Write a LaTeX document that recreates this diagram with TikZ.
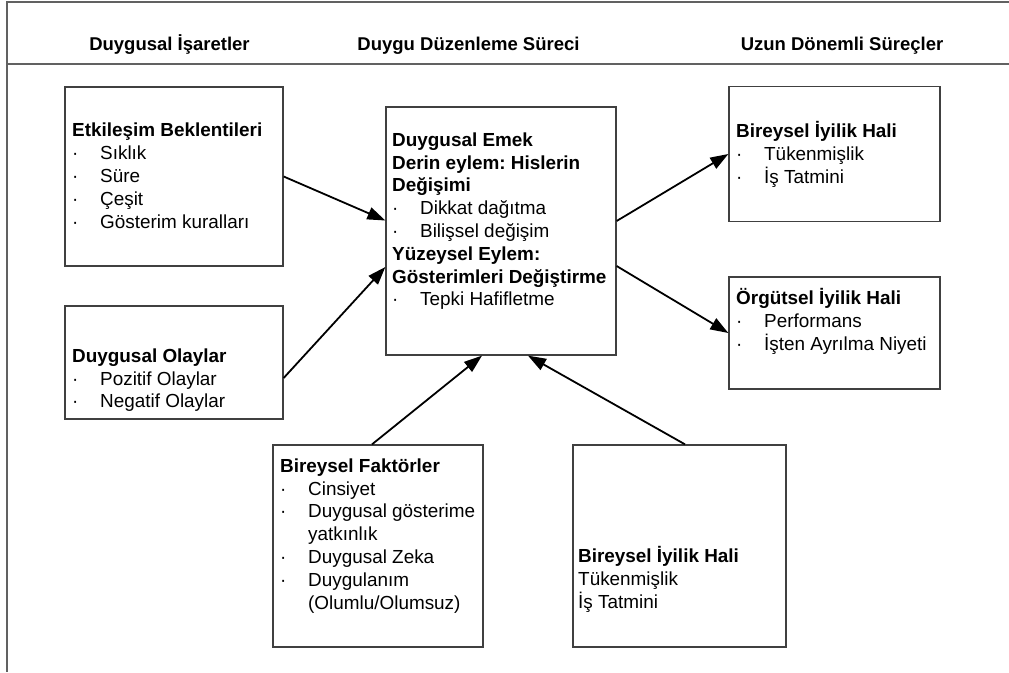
\documentclass[tikz,border=0pt]{standalone}
\usepackage{fontspec}
\setmainfont{Liberation Sans}
\usetikzlibrary{arrows.meta}
\frenchspacing
\newcommand{\bl}{\makebox[28pt][l]{·}}
\newcommand{\ind}{\makebox[28pt][l]{}}
\tikzset{
  frameline/.style={draw=black!62, line width=2pt},
  boxnode/.style={draw=black!75, line width=1.3pt, rectangle, inner sep=0pt},
  txt/.style={anchor=north west, inner sep=0pt, font=\fontsize{18.9}{22.8}\selectfont\frenchspacing},
  head/.style={anchor=base, inner sep=0pt, font=\fontsize{18.5}{22.8}\selectfont\bfseries},
  conn/.style={line width=1.8pt, -{Triangle[length=18pt,width=12.5pt]}}
}
\begin{document}
\begin{tikzpicture}[x=1pt,y=-1pt]
\useasboundingbox (0,0) rectangle (1009,672);
% frame
\coordinate (ftl) at (7,2);
\coordinate (ftr) at (1009,2);
\coordinate (fbl) at (7,672);
\coordinate (fsl) at (7,64);
\coordinate (fsr) at (1009,64);
\draw[frameline] (ftr) -- (ftl) -- (fbl);
\draw[frameline] (fsl) -- (fsr);
% headers
\node[head] (h1) at (169.5,50) {Duygusal İşaretler};
\node[head] (h2) at (468.5,50) {Duygu Düzenleme Süreci};
\node[head] (h3) at (842,50) {Uzun Dönemli Süreçler};
% boxes
\node[boxnode, minimum width=218pt, minimum height=179pt] (eb) at (174,176.5) {};
\node[boxnode, minimum width=218pt, minimum height=113pt] (do) at (174,362.5) {};
\node[boxnode, minimum width=230pt, minimum height=248pt] (de) at (501,231) {};
\node[boxnode, minimum width=211pt, minimum height=135pt] (bi1) at (834.5,154) {};
\node[boxnode, minimum width=211pt, minimum height=112pt] (oi) at (834.5,333) {};
\node[boxnode, minimum width=210pt, minimum height=202pt] (bf) at (378,546) {};
\node[boxnode, minimum width=213pt, minimum height=202pt] (bi2) at (679.5,546) {};
% texts
\node[txt] (teb) at (72,136.7-15.96) {\begin{tabular}{@{}l@{}}
\textbf{Etkileşim Beklentileri}\\
\bl Sıklık\\
\bl Süre\\
\bl Çeşit\\
\bl Gösterim kuralları
\end{tabular}};
\node[txt] (tdo) at (72,362-15.96) {\begin{tabular}{@{}l@{}}
\textbf{Duygusal Olaylar}\\
\bl Pozitif Olaylar\\
\bl Negatif Olaylar
\end{tabular}};
\node[txt] (tde) at (392,146-15.96) {\begin{tabular}{@{}l@{}}
\textbf{Duygusal Emek}\\
\textbf{Derin eylem: Hislerin}\\
\textbf{Değişimi}\\
\bl Dikkat dağıtma\\
\bl Bilişsel değişim\\
\textbf{Yüzeysel Eylem:}\\
\textbf{Gösterimleri Değiştirme}\\
\bl Tepki Hafifletme
\end{tabular}};
\node[txt] (tbi1) at (736,137-15.96) {\begin{tabular}{@{}l@{}}
\textbf{Bireysel İyilik Hali}\\
\bl Tükenmişlik\\
\bl İş Tatmini
\end{tabular}};
\node[txt] (toi) at (736,304-15.96) {\begin{tabular}{@{}l@{}}
\textbf{Örgütsel İyilik Hali}\\
\bl Performans\\
\bl İşten Ayrılma Niyeti
\end{tabular}};
\node[txt] (tbf) at (280,472-15.96) {\begin{tabular}{@{}l@{}}
\textbf{Bireysel Faktörler}\\
\bl Cinsiyet\\
\bl Duygusal gösterime\\
\ind yatkınlık\\
\bl Duygusal Zeka\\
\bl Duygulanım\\
\ind (Olumlu/Olumsuz)
\end{tabular}};
\node[txt] (tbi2) at (578,562-15.96) {\begin{tabular}{@{}l@{}}
\textbf{Bireysel İyilik Hali}\\
Tükenmişlik\\
İş Tatmini
\end{tabular}};
% connectors
\draw[conn] (eb.east) -- ([yshift=10.5pt]de.west);
\draw[conn] ([yshift=-15.5pt]do.east) -- ([yshift=-36pt]de.west);
\draw[conn] ([yshift=10pt]de.east) -- (bi1.west);
\draw[conn] ([yshift=-35pt]de.east) -- (oi.west);
\draw[conn] ([xshift=-6pt]bf.north) -- ([xshift=-19pt]de.south);
\draw[conn] ([xshift=5.5pt]bi2.north) -- ([xshift=27pt]de.south);
\end{tikzpicture}
\end{document}
